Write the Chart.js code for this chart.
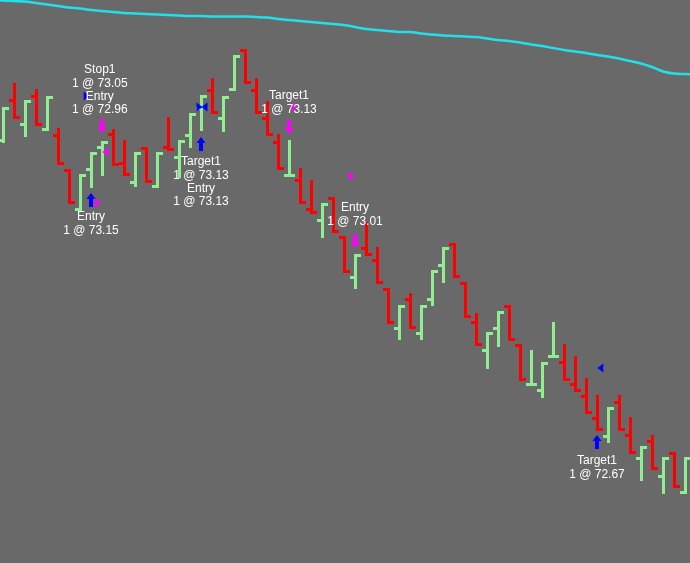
<!DOCTYPE html>
<html>
<head>
<meta charset="utf-8">
<script src="https://cdn.jsdelivr.net/npm/chart.js@4.4.1/dist/chart.umd.min.js"></script>
<style>
    html, body { margin: 0; padding: 0; background: #696969; overflow: hidden; }
    canvas { display: block; }
</style>
</head>
<body>
<canvas id="grafico" width="690" height="563"></canvas>
<script>
// Barras OHLC (una por sesion, de izquierda a derecha)
const aperturas = [73.320,73.400,73.352,73.408,73.340,73.330,73.262,73.180,73.262,73.306,
    73.332,73.274,73.236,73.306,73.228,73.306,73.286,73.330,73.384,73.420,
    73.364,73.420,73.500,73.420,73.364,73.316,73.248,73.240,73.182,73.160,
    73.206,73.126,73.046,73.104,73.080,73.024,72.944,73.002,72.934,73.002,
    73.070,73.114,73.036,72.956,72.900,72.944,72.990,72.912,72.830,72.820,
    72.886,72.876,72.832,72.808,72.764,72.728,72.796,72.730,72.684,72.718,
    72.648,72.696,72.614];
const maximos = [73.386,73.434,73.400,73.422,73.408,73.344,73.262,73.252,73.296,73.318,
    73.342,73.320,73.296,73.306,73.296,73.366,73.320,73.374,73.410,73.444,
    73.408,73.490,73.502,73.444,73.398,73.332,73.320,73.264,73.240,73.194,
    73.206,73.128,73.092,73.156,73.106,73.024,72.990,73.014,72.990,73.060,
    73.106,73.114,73.036,72.974,72.936,72.978,72.990,72.912,72.900,72.876,
    72.956,72.912,72.888,72.844,72.810,72.786,72.810,72.766,72.708,72.730,
    72.686,72.696,72.686];
const minimos = [73.316,73.364,73.328,73.350,73.340,73.272,73.194,73.180,73.226,73.250,
    73.270,73.250,73.228,73.236,73.226,73.300,73.246,73.306,73.340,73.374,
    73.338,73.420,73.434,73.374,73.330,73.262,73.248,73.194,73.174,73.126,
    73.136,73.056,73.024,73.090,73.034,72.954,72.922,72.944,72.922,72.990,
    73.036,73.046,72.966,72.910,72.864,72.908,72.920,72.840,72.830,72.806,
    72.886,72.840,72.818,72.774,72.740,72.716,72.740,72.694,72.640,72.662,
    72.614,72.626,72.614];
const cierres = [73.386,73.364,73.400,73.350,73.406,73.272,73.194,73.252,73.296,73.318,
    73.270,73.250,73.296,73.236,73.296,73.300,73.320,73.374,73.410,73.374,
    73.408,73.490,73.434,73.374,73.330,73.262,73.250,73.194,73.174,73.194,
    73.136,73.056,73.092,73.090,73.034,72.954,72.990,72.944,72.990,73.060,
    73.106,73.046,72.966,72.910,72.936,72.978,72.920,72.840,72.832,72.876,
    72.888,72.840,72.818,72.774,72.740,72.786,72.740,72.694,72.708,72.662,
    72.686,72.628,72.686];

// Media movil (empieza una barra antes de la primera visible)
const primeraMedia = -1;
const media = [73.602,73.599,73.598,73.597,73.594,73.591,73.588,73.585,73.583,73.580,73.578,
    73.576,73.574,73.573,73.572,73.571,73.570,73.569,73.568,73.568,73.567,
    73.567,73.567,73.567,73.566,73.565,73.562,73.560,73.558,73.556,73.554,
    73.552,73.550,73.546,73.542,73.540,73.538,73.536,73.536,73.533,73.531,
    73.529,73.528,73.527,73.526,73.523,73.520,73.518,73.515,73.511,73.508,
    73.504,73.500,73.497,73.494,73.490,73.487,73.483,73.478,73.473,73.466,
    73.457,73.453,73.452,73.451];

// Ejecuciones
const flechasCompra = [{ barra: 8, precio: 73.214 }, { barra: 18, precio: 73.326 }, { barra: 54, precio: 72.730 }];
const flechasVenta = [{ barra: 9, precio: 73.334 }, { barra: 26, precio: 73.332 }, { barra: 32, precio: 73.104 }];
const marcasCompra = [
    { barra: 7.6, precio: 73.408, dir: 'der' },
    { barra: 17.86, precio: 73.386, dir: 'der' },
    { barra: 18.32, precio: 73.386, dir: 'izq' },
    { barra: 54.3, precio: 72.864, dir: 'izq' }
];
const marcasVenta = [
    { barra: 8.6, precio: 73.194, dir: 'der' },
    { barra: 9.3, precio: 73.296, dir: 'izq' },
    { barra: 26.3, precio: 73.386, dir: 'izq' },
    { barra: 31.7, precio: 73.248, dir: 'der' }
];
const etiquetas = [
    { barra: 8.8, precio: 73.460, lineas: ['Stop1', '1 @ 73.05', 'Entry', '1 @ 72.96'] },
    { barra: 8, precio: 73.166, lineas: ['Entry', '1 @ 73.15'] },
    { barra: 18, precio: 73.276, lineas: ['Target1', '1 @ 73.13', 'Entry', '1 @ 73.13'] },
    { barra: 26, precio: 73.408, lineas: ['Target1', '1 @ 73.13'] },
    { barra: 32, precio: 73.184, lineas: ['Entry', '1 @ 73.01'] },
    { barra: 54, precio: 72.678, lineas: ['Target1', '1 @ 72.67'] }
];

const VERDE = '#90ee90';
const ROJO = '#ff0000';
const AZUL = '#0000ff';
const MAGENTA = '#ff00ff';

const barrasOHLC = {
    id: 'barrasOHLC',
    beforeDatasetsDraw(chart) {
        const { ctx, scales: { x, y } } = chart;
        ctx.save();
        for (let i = 0; i < aperturas.length; i++) {
            const px = Math.round(x.getPixelForValue(i));
            const yA = Math.round(y.getPixelForValue(aperturas[i]));
            const yH = Math.round(y.getPixelForValue(maximos[i]));
            const yL = Math.round(y.getPixelForValue(minimos[i]));
            const yC = Math.round(y.getPixelForValue(cierres[i]));
            ctx.fillStyle = cierres[i] >= aperturas[i] ? VERDE : ROJO;
            ctx.fillRect(px - 1, yH, 3, yL - yH + 1);
            // apertura a la izquierda, cierre a la derecha
            ctx.fillRect(px - 5, Math.min(Math.max(yA - 1, yH), yL - 2), 5, 3);
            ctx.fillRect(px + 1, Math.min(Math.max(yC - 1, yH), yL - 2), 5, 3);
        }
        ctx.restore();
    }
};

function flecha(ctx, px, py, color, arriba) {
    const s = arriba ? 1 : -1;
    ctx.fillStyle = color;
    ctx.beginPath();
    ctx.moveTo(px, py);
    ctx.lineTo(px - 4.5, py + s * 6);
    ctx.lineTo(px + 4.5, py + s * 6);
    ctx.closePath();
    ctx.fill();
    ctx.fillRect(px - 2, arriba ? py + 5 : py - 14, 4, 9);
}

function triangulo(ctx, px, py, color, dir) {
    const s = dir === 'der' ? 1 : -1;
    ctx.fillStyle = color;
    ctx.beginPath();
    ctx.moveTo(px + s * 3, py);
    ctx.lineTo(px - s * 3, py - 4.5);
    ctx.lineTo(px - s * 3, py + 4.5);
    ctx.closePath();
    ctx.fill();
}

const ejecuciones = {
    id: 'ejecuciones',
    afterDatasetsDraw(chart) {
        const { ctx, scales: { x, y } } = chart;
        ctx.save();
        flechasCompra.forEach(f => flecha(ctx, x.getPixelForValue(f.barra), y.getPixelForValue(f.precio), AZUL, true));
        flechasVenta.forEach(f => flecha(ctx, x.getPixelForValue(f.barra), y.getPixelForValue(f.precio), MAGENTA, false));
        marcasCompra.forEach(m => triangulo(ctx, x.getPixelForValue(m.barra), y.getPixelForValue(m.precio), AZUL, m.dir));
        marcasVenta.forEach(m => triangulo(ctx, x.getPixelForValue(m.barra), y.getPixelForValue(m.precio), MAGENTA, m.dir));

        ctx.font = '12px "Liberation Sans", Arial, sans-serif';
        ctx.fillStyle = '#ffffff';
        ctx.textAlign = 'center';
        ctx.textBaseline = 'middle';
        etiquetas.forEach(e => {
            const px = x.getPixelForValue(e.barra);
            const py = y.getPixelForValue(e.precio);
            e.lineas.forEach((t, k) => ctx.fillText(t, px, py + k * 13.3));
        });
        ctx.restore();
    }
};

new Chart(document.getElementById('grafico'), {
    type: 'line',
    data: {
        datasets: [{
            data: media.map((v, k) => ({ x: primeraMedia + k, y: v })),
            borderColor: '#22e0ea',
            borderWidth: 2.5,
            pointRadius: 0,
            tension: 0.3
        }]
    },
    options: {
        responsive: false,
        animation: false,
        layout: { padding: 0 },
        plugins: { legend: { display: false }, tooltip: { enabled: false } },
        scales: {
            x: { type: 'linear', min: -3 / 11, max: 687 / 11, display: false },
            y: { min: 72.474, max: 73.60, display: false }
        }
    },
    plugins: [barrasOHLC, ejecuciones]
});
</script>
</body>
</html>
